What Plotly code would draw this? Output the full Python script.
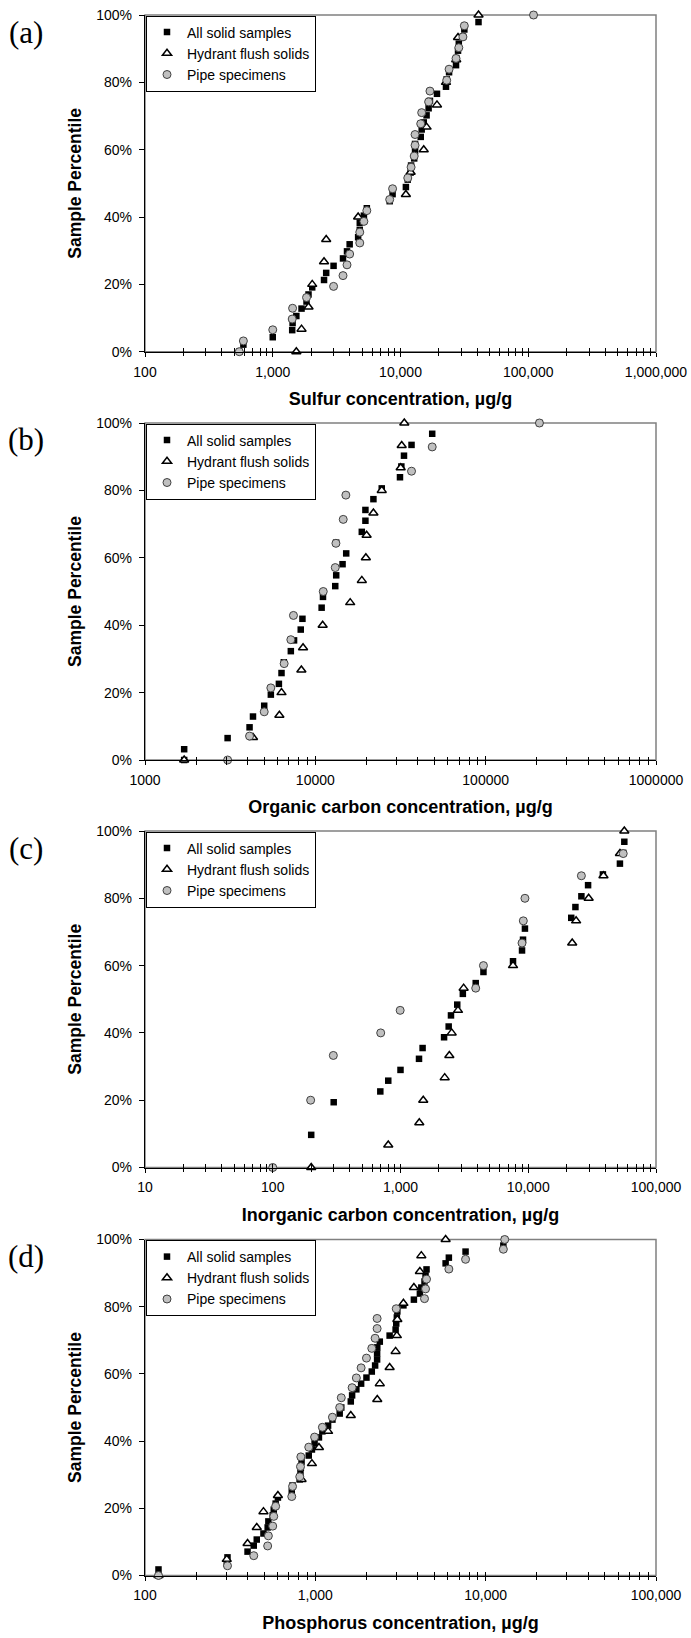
import plotly.graph_objects as go

# ---------------- DATA ----------------
# Panel (a) Sulfur
a_all_x = [547, 589, 1000, 1420, 1430, 1530, 1680, 1838, 1905, 2037, 2520, 2620, 2993, 3548, 3813, 4000,
           4660, 4800, 4800, 5170, 5450, 8230, 8670, 11020, 11400, 12000, 12100, 12800, 13000, 13000, 14400,
           14650, 15200, 16000, 16600, 17000, 19300, 22700, 23000, 24000, 27200, 27300, 28200, 28600, 30800,
           31600, 40800, 110000]
a_all_y = [0, 2.1, 4.3, 6.4, 8.5, 10.6, 12.8, 14.9, 17.0, 19.1, 21.3, 23.4, 25.5, 27.7, 29.8, 31.9, 34.0,
           36.2, 38.3, 40.4, 42.6, 44.7, 46.8, 48.9, 51.1, 53.2, 55.3, 57.4, 59.6, 61.7, 63.8, 66.0, 68.1,
           70.2, 72.3, 74.5, 76.6, 78.7, 80.9, 83.0, 85.1, 87.2, 89.4, 91.5, 93.6, 95.7, 97.9, 100]
a_hyd_x = [1530, 1680, 1905, 2037, 2520, 2620, 4660, 11020, 12000, 15200, 16000, 19300, 22700, 27300, 28200, 40800]
a_hyd_y = [0, 6.7, 13.3, 20, 26.7, 33.3, 40, 46.7, 53.3, 60, 66.7, 73.3, 80, 86.7, 93.3, 100]
a_pipe_x = [547, 589, 1000, 1420, 1430, 1838, 2993, 3548, 3813, 4000, 4800, 4800, 5170, 5450, 8230, 8670,
            11400, 12100, 12800, 13000, 13000, 14400, 14650, 16600, 17000, 23000, 24000, 27200, 28600, 30800,
            31600, 110000]
a_pipe_y = [0, 3.2, 6.5, 9.7, 12.9, 16.1, 19.4, 22.6, 25.8, 29.0, 32.3, 35.5, 38.7, 41.9, 45.2, 48.4, 51.6,
            54.8, 58.1, 61.3, 64.5, 67.7, 71.0, 74.2, 77.4, 80.6, 83.9, 87.1, 90.3, 93.5, 96.8, 100]

# Panel (b) Organic carbon
b_all_x = [1698, 1698, 3055, 4110, 4305, 5010, 5480, 6110, 6330, 6530, 7180, 7500, 8210, 8400, 10890, 11090,
           13090, 13260, 14450, 15180, 13250, 18740, 19680, 19680, 21930, 24540, 31400, 31990, 33150, 36710,
           48550, 206900]
b_all_y = [0, 3.2, 6.5, 9.7, 12.9, 16.1, 19.4, 22.6, 25.8, 29.0, 32.3, 35.5, 38.7, 41.9, 45.2, 48.4, 51.6,
           54.8, 58.1, 61.3, 64.5, 67.7, 71.0, 74.2, 77.4, 80.6, 83.9, 87.1, 90.3, 93.5, 96.8, 100]
b_hyd_x = [1698, 4305, 6150, 6330, 8280, 8470, 11040, 16020, 18750, 19800, 20000, 21930, 24540, 31700, 32140, 33290]
b_hyd_y = [0, 6.7, 13.3, 20, 26.7, 33.3, 40, 46.7, 53.3, 60, 66.7, 73.3, 80, 86.7, 93.3, 100]
b_pipe_x = [3055, 4110, 5010, 5480, 6560, 7180, 7440, 11130, 13090, 13210, 14580, 15110, 36710, 48550, 206900]
b_pipe_y = [0, 7.1, 14.3, 21.4, 28.6, 35.7, 42.9, 50, 57.1, 64.3, 71.4, 78.6, 85.7, 92.9, 100]

# Panel (c) Inorganic carbon
c_all_x = [100, 200, 300, 695, 802, 1000, 1396, 1489, 2193, 2383, 2484, 2781, 3076, 3880, 4460, 7600, 8940,
           9100, 9420, 21700, 23400, 26060, 29400, 38400, 52200, 55400, 56500]
c_all_y = [0, 9.7, 19.4, 22.6, 25.8, 29.0, 32.3, 35.5, 38.7, 41.9, 45.2, 48.4, 51.6, 54.8, 58.1, 61.3, 64.5,
           67.7, 71.0, 74.2, 77.4, 80.6, 83.9, 87.1, 90.3, 93.5, 96.8]
c_hyd_x = [200, 802, 1403, 1507, 2218, 2411, 2515, 2818, 3120, 7600, 22080, 23700, 29700, 38800, 52200, 56500]
c_hyd_y = [0, 6.7, 13.3, 20, 26.7, 33.3, 40, 46.7, 53.3, 60, 66.7, 73.3, 80, 86.7, 93.3, 100]
c_pipe_x = [100, 198, 298, 700, 994, 3880, 4460, 8940, 9150, 9420, 26060, 55400]
c_pipe_y = [0, 20, 33.3, 40, 46.7, 53.3, 60, 66.7, 73.3, 80, 86.7, 93.3]

# Panel (d) Phosphorus
d_all_x = [120, 120, 302, 305, 400, 435, 453, 496, 525, 530, 562, 570, 585, 603, 727, 735, 810, 818, 822, 830,
           915, 955, 990, 1050, 1100, 1188, 1260, 1390, 1420, 1615, 1644, 1741, 1857, 1996, 2145, 2244, 2305,
           2305, 2310, 2390, 2730, 2960, 2985, 3010, 3030, 3290, 3790, 4110, 4190, 4375, 4436, 4496, 5820,
           6080, 7620, 12700, 12940]
d_all_y = [0, 1.8, 3.6, 5.4, 7.1, 8.9, 10.7, 12.5, 14.3, 16.1, 17.9, 19.6, 21.4, 23.2, 25.0, 26.8, 28.6, 30.4,
           32.1, 33.9, 35.7, 37.5, 39.3, 41.1, 42.9, 44.6, 46.4, 48.2, 50.0, 51.8, 53.6, 55.4, 57.1, 58.9,
           60.7, 62.5, 64.3, 66.1, 67.9, 69.6, 71.4, 73.2, 75.0, 76.8, 78.6, 80.4, 82.1, 83.9, 85.7, 87.5,
           89.3, 91.1, 92.9, 94.6, 96.4, 98.2, 100]
d_hyd_x = [120, 302, 400, 453, 496, 603, 830, 955, 1050, 1188, 1615, 2310, 2390, 2730, 2960, 3010, 3030, 3290,
           3790, 4110, 4190, 5820]
d_hyd_y = [0, 4.8, 9.5, 14.3, 19.0, 23.8, 28.6, 33.3, 38.1, 42.9, 47.6, 52.4, 57.1, 61.9, 66.7, 71.4, 76.2,
           81.0, 85.7, 90.5, 95.2, 100]
d_pipe_x = [120, 305, 435, 525, 530, 562, 570, 585, 727, 735, 810, 818, 822, 915, 990, 1100, 1260, 1390, 1420,
            1644, 1741, 1857, 1996, 2145, 2244, 2305, 2305, 2985, 4375, 4436, 4496, 6080, 7620, 12700, 12940]
d_pipe_y = [0, 2.9, 5.9, 8.8, 11.8, 14.7, 17.6, 20.6, 23.5, 26.5, 29.4, 32.4, 35.3, 38.2, 41.2, 44.1, 47.1,
            50.0, 52.9, 55.9, 58.8, 61.8, 64.7, 67.6, 70.6, 73.5, 76.5, 79.4, 82.4, 85.3, 88.2, 91.2, 94.1,
            97.1, 100]

series_names = ["All solid samples", "Hydrant flush solids", "Pipe specimens"]
panel_labels = ["(a)", "(b)", "(c)", "(d)"]
x_titles = ["Sulfur concentration, µg/g", "Organic carbon concentration, µg/g",
            "Inorganic carbon concentration, µg/g", "Phosphorus concentration, µg/g"]
y_title = "Sample Percentile"
x_ticks_a = ["100", "1,000", "10,000", "100,000", "1,000,000"]
x_ticks_b = ["1000", "10000", "100000", "1000000"]
x_ticks_c = ["10", "100", "1,000", "10,000", "100,000"]
x_ticks_d = ["100", "1,000", "10,000", "100,000"]
y_ticks = ["0%", "20%", "40%", "60%", "80%", "100%"]
y_tickvals = [0, 20, 40, 60, 80, 100]

# ---------------- LAYOUT ----------------
W, H = 691, 1638
PL, PR = 145, 656
panel_px = [(15, 351.7), (423, 760), (831, 1167.5), (1239.5, 1575.5)]
decades = [(2, 6), (3, 6), (1, 5), (2, 5)]
tick_text = [x_ticks_a, x_ticks_b, x_ticks_c, x_ticks_d]
data = [
    (a_all_x, a_all_y, a_hyd_x, a_hyd_y, a_pipe_x, a_pipe_y),
    (b_all_x, b_all_y, b_hyd_x, b_hyd_y, b_pipe_x, b_pipe_y),
    (c_all_x, c_all_y, c_hyd_x, c_hyd_y, c_pipe_x, c_pipe_y),
    (d_all_x, d_all_y, d_hyd_x, d_hyd_y, d_pipe_x, d_pipe_y),
]

SANS = "Liberation Sans, Arial, sans-serif"
SERIF = "Liberation Serif, Times New Roman, serif"

fig = go.Figure()
layout = dict(template="none", width=W, height=H, margin=dict(l=0, r=0, t=0, b=0, pad=0), autosize=False,
              paper_bgcolor="white", plot_bgcolor="white", showlegend=True,
              font=dict(family=SANS, size=14, color="black"))
shapes, annotations = [], []

sq = dict(symbol="square", size=6.5, color="black", line=dict(width=0))
tri = dict(symbol="triangle-up", size=8, color="white", line=dict(color="black", width=1.5))
cir = dict(symbol="circle", size=8, color="#C0C0C0", line=dict(color="#404040", width=1))

for i in range(4):
    n = i + 1
    xa, ya = ("x" if n == 1 else f"x{n}"), ("y" if n == 1 else f"y{n}")
    xo = f"x{n + 4}"
    leg = "legend" if n == 1 else f"legend{n}"
    top, bot = panel_px[i]
    ydom = [1 - bot / H, 1 - top / H]
    xdom = [PL / W, PR / W]
    lo, hi = decades[i]
    tickvals = [10 ** k for k in range(lo, hi + 1)]
    minor_vals = [m * 10 ** k for k in range(lo, hi) for m in range(2, 10)]
    ax, ay, hx, hy, px_, py_ = data[i]

    for (xs, ys, name, mk) in [(ax, ay, series_names[0], sq), (hx, hy, series_names[1], tri),
                               (px_, py_, series_names[2], cir)]:
        fig.add_trace(go.Scatter(x=xs, y=ys, mode="markers", name=name, marker=mk,
                                 xaxis=xa, yaxis=ya, legend=leg, cliponaxis=False))
    # empty trace on an overlay axis that carries the inside half of the crossing tick marks
    fig.add_trace(go.Scatter(x=[], y=[], xaxis=xo, yaxis=ya, showlegend=False, hoverinfo="skip"))

    common_x = dict(type="log", range=[lo, hi], showgrid=False, zeroline=False, automargin=False)
    layout[f"xaxis{'' if n == 1 else n}"] = dict(
        **common_x, domain=xdom, anchor=ya, showline=True, linecolor="black", linewidth=1.3,
        tickvals=tickvals, ticktext=tick_text[i], ticks="outside", ticklen=4, tickwidth=1.2,
        tickcolor="black", ticklabelstandoff=3,
        tickfont=dict(family=SANS, size=14, color="black"),
        minor=dict(tickvals=minor_vals, ticks="outside", ticklen=3.5, tickwidth=1, tickcolor="black",
                   showgrid=False),
        title=dict(text=x_titles[i], standoff=13,
                   font=dict(family=SANS, size=18, color="black", weight="bold")))
    layout[f"xaxis{n + 4}"] = dict(
        **common_x, overlaying=xa, anchor=ya, showline=False, showticklabels=False,
        tickvals=tickvals, ticks="inside", ticklen=4, tickwidth=1.2, tickcolor="black",
        minor=dict(tickvals=minor_vals, ticks="inside", ticklen=3.5, tickwidth=1, tickcolor="black",
                   showgrid=False))
    layout[f"yaxis{'' if n == 1 else n}"] = dict(
        range=[0, 100], domain=ydom, anchor=xa, showgrid=False, zeroline=False, showline=True,
        automargin=False, linecolor="black", linewidth=1.3, tickvals=y_tickvals, ticktext=y_ticks,
        ticks="outside", ticklen=5, tickwidth=1.2, tickcolor="black", ticklabelstandoff=4,
        tickfont=dict(family=SANS, size=14, color="black"),
        title=dict(text=y_title, standoff=10,
                   font=dict(family=SANS, size=17.5, color="black", weight="bold")))
    layout[leg] = dict(x=146 / W, y=1 - (top + 0.5) / H, xanchor="left", yanchor="top",
                       bgcolor="white", bordercolor="black", borderwidth=1,
                       font=dict(family=SANS, size=14, color="black"), tracegroupgap=0,
                       itemsizing="trace")
    shapes.append(dict(type="rect", xref=f"{xa} domain", yref=f"{ya} domain", x0=0, x1=1, y0=0, y1=1,
                       line=dict(color="#808080", width=1.5), layer="below"))
    annotations.append(dict(text=panel_labels[i], xref="paper", yref="paper", x=26 / W,
                            y=1 - (top + 17) / H, showarrow=False, xanchor="center", yanchor="middle",
                            font=dict(family=SERIF, size=31, color="black")))

layout["shapes"] = shapes
layout["annotations"] = annotations
fig.update_layout(**layout)
fig.write_html("out.html", post_script="document.body.style.margin='0px';")
